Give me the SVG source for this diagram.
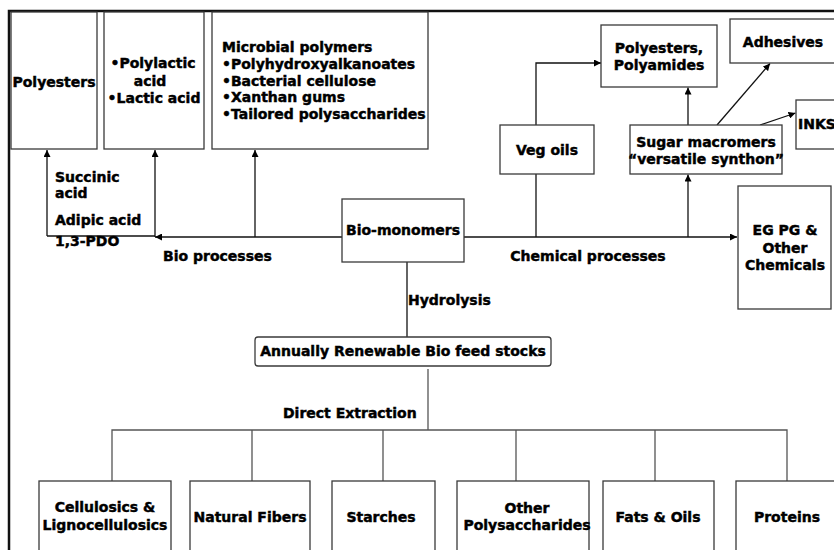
<svg xmlns="http://www.w3.org/2000/svg" width="834" height="550" viewBox="0 0 834 550">
<defs>
<style>
.b{fill:#fff;stroke:#3a3a3a;stroke-width:1.3}
.t{font-family:"DejaVu Sans",sans-serif;font-weight:bold;font-size:14px;fill:#000;stroke:#000;stroke-width:0.45}
.m{text-anchor:middle}
.c{fill:none;stroke:#111;stroke-width:1.3}
.g{fill:none;stroke:#555;stroke-width:1.3}
</style>
<marker id="ah" viewBox="0 0 10 10" refX="10" refY="5" markerWidth="7" markerHeight="7" markerUnits="userSpaceOnUse" orient="auto">
<path d="M0,0L10,5L0,10z" fill="#000"/>
</marker>
</defs>
<rect width="834" height="550" fill="#fff"/>
<path d="M9,550V11H834" fill="none" stroke="#111" stroke-width="2.5"/>
<g id="connectors">
<path class="c" d="M47,236V150" marker-end="url(#ah)"/>
<path class="c" d="M47,236H155"/>
<path class="c" d="M155,237V150" marker-end="url(#ah)"/>
<path class="c" d="M342,237H155" marker-end="url(#ah)"/>
<path class="c" d="M255,237V150" marker-end="url(#ah)"/>
<path class="c" d="M464,237H737" marker-end="url(#ah)"/>
<path class="c" d="M536,237V174"/>
<path class="c" d="M536,125V63H601" marker-end="url(#ah)"/>
<path class="c" d="M688,237V174.5" marker-end="url(#ah)"/>
<path class="c" d="M688,125V87.5" marker-end="url(#ah)"/>
<path class="c" d="M717,125L770,63.5" marker-end="url(#ah)"/>
<path class="c" d="M760,125L795.5,113" marker-end="url(#ah)"/>
<path class="c" d="M407,262V337"/>
<path class="g" d="M428,369V430"/>
<path class="g" d="M112,481V430H787V481"/>
<path class="g" d="M252,430V481M383,430V481M516,430V481M655,430V481"/>
</g>
<g id="n-polyesters"><rect class="b" x="11" y="12" width="86" height="137"/><text class="t m" x="54" y="87">Polyesters</text></g>
<g id="n-polylactic"><rect class="b" x="104" y="12" width="100" height="137"/><text class="t m" x="153" y="68">•Polylactic</text><text class="t m" x="150" y="86">acid</text><text class="t m" x="154" y="103">•Lactic acid</text></g>
<g id="n-microbial"><rect class="b" x="212" y="12" width="216" height="137"/>
<text class="t" x="222" y="52">Microbial polymers</text>
<text class="t" x="222" y="69">•Polyhydroxyalkanoates</text>
<text class="t" x="222" y="86">•Bacterial cellulose</text>
<text class="t" x="222" y="102">•Xanthan gums</text>
<text class="t" x="222" y="119">•Tailored polysaccharides</text></g>
<g id="n-polyamides"><rect class="b" x="601" y="25" width="116" height="62"/><text class="t m" x="659" y="53">Polyesters,</text><text class="t m" x="659" y="70">Polyamides</text></g>
<g id="n-adhesives"><rect class="b" x="730" y="19" width="110" height="44"/><text class="t m" x="783" y="47">Adhesives</text></g>
<g id="n-inks"><rect class="b" x="796" y="100" width="50" height="49"/><text class="t" x="798" y="129">INKS</text></g>
<g id="n-vegoils"><rect class="b" x="500" y="125" width="94" height="49"/><text class="t m" x="547" y="155">Veg oils</text></g>
<g id="n-sugar"><rect class="b" x="630" y="125" width="152" height="49"/><text class="t m" x="706" y="147">Sugar macromers</text><text class="t m" x="706" y="164">“versatile synthon”</text></g>
<g id="n-egpg"><rect class="b" x="738" y="186" width="93" height="123"/><text class="t m" x="785" y="235">EG PG &amp;</text><text class="t m" x="785" y="253">Other</text><text class="t m" x="785" y="270">Chemicals</text></g>
<g id="n-biomonomers"><rect class="b" x="342" y="199" width="122" height="63"/><text class="t m" x="403" y="235">Bio-monomers</text></g>
<g id="labels">
<text class="t" x="55" y="182">Succinic</text>
<text class="t" x="55" y="198">acid</text>
<text class="t" x="55" y="225">Adipic acid</text>
<text class="t" x="55" y="246">1,3-PDO</text>
<text class="t" x="163" y="261">Bio processes</text>
<text class="t m" x="588" y="261">Chemical processes</text>
<text class="t" x="408" y="305">Hydrolysis</text>
<text class="t" x="283" y="418">Direct Extraction</text>
</g>
<g id="n-feedstocks"><rect class="b" x="255" y="337" width="296" height="29" rx="3"/><text class="t m" x="403" y="356">Annually Renewable Bio feed stocks</text></g>
<g id="n-cellulosics"><rect class="b" x="39" y="481" width="132" height="80"/><text class="t m" x="105" y="512">Cellulosics &amp;</text><text class="t m" x="105" y="530">Lignocellulosics</text></g>
<g id="n-fibers"><rect class="b" x="190" y="481" width="120" height="80"/><text class="t m" x="250" y="522">Natural Fibers</text></g>
<g id="n-starches"><rect class="b" x="332" y="481" width="103" height="80"/><text class="t m" x="381" y="522">Starches</text></g>
<g id="n-otherpoly"><rect class="b" x="457" y="481" width="132" height="80"/><text class="t m" x="527" y="513">Other</text><text class="t m" x="527" y="530">Polysaccharides</text></g>
<g id="n-fats"><rect class="b" x="603" y="481" width="111" height="80"/><text class="t m" x="658" y="522">Fats &amp; Oils</text></g>
<g id="n-proteins"><rect class="b" x="736" y="481" width="110" height="80"/><text class="t m" x="787" y="522">Proteins</text></g>
</svg>
